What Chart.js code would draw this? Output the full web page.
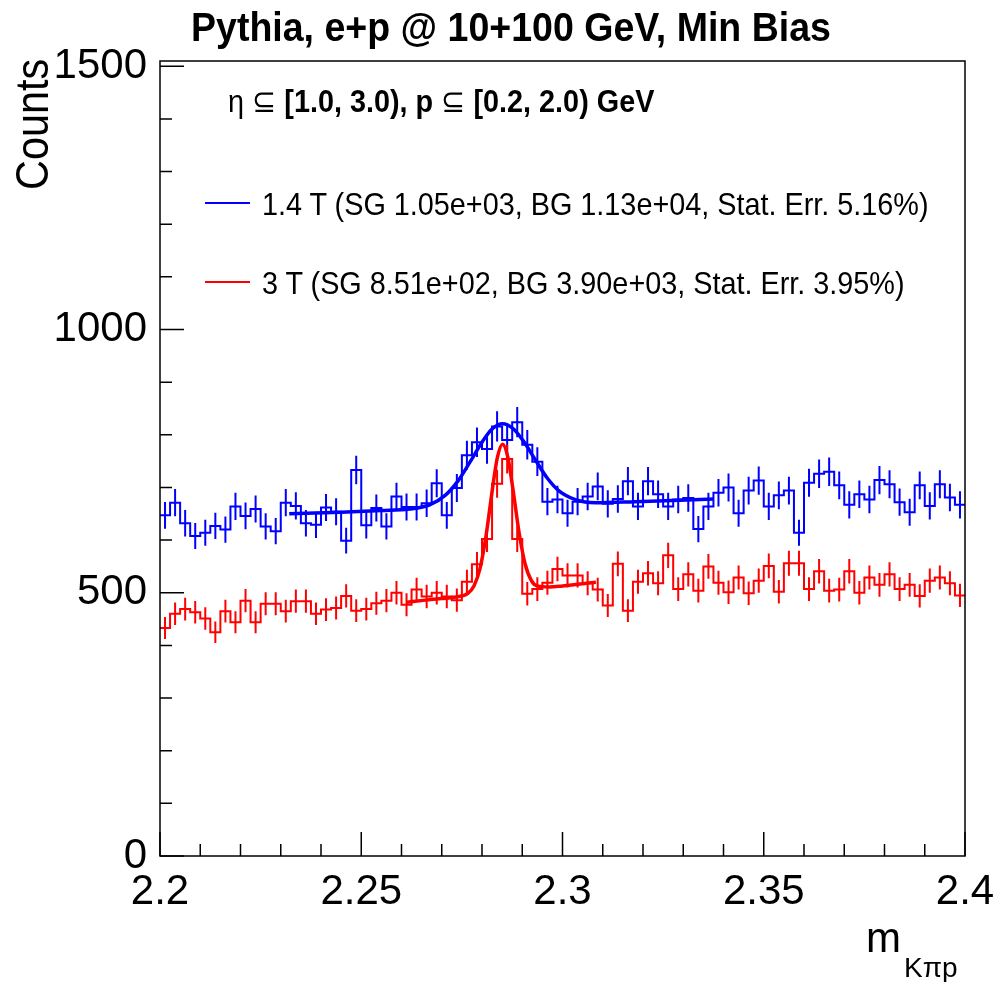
<!DOCTYPE html>
<html>
<head>
<meta charset="utf-8">
<script src="https://cdn.jsdelivr.net/npm/chart.js@4.4.0/dist/chart.umd.min.js"></script>
<style>
  html, body { margin: 0; padding: 0; background: #fff; }
  #wrap { position: relative; width: 993px; height: 982px; font-family: 'Liberation Sans', Arial, sans-serif; color: #000; }
  #wrap canvas { position: absolute; left: 0; top: 0; }
  .txt { position: absolute; white-space: nowrap; line-height: 1; }
  .sym { font-weight: normal; }
  .lg { position: absolute; height: 2px; width: 45px; left: 205px; }
</style>
</head>
<body>
<div id="wrap">
  <canvas id="hist" width="993" height="982"></canvas>
  <div class="txt" style="left:511px; top:7px; font-size:41px; font-weight:bold; transform:translateX(-50%) scaleX(0.915);">Pythia, e+p @ 10+100 GeV, Min Bias</div>
  <div class="txt" style="left:228px; top:85px; font-size:32px; font-weight:bold; transform-origin:0 0; transform:scaleX(0.9);"><span class="sym">&#951; &#8838;</span> [1.0, 3.0), p <span class="sym">&#8838;</span> [0.2, 2.0) GeV</div>
  <div class="lg" style="top:202px; background:#0000ff;"></div>
  <div class="txt" style="left:262px; top:188px; font-size:32px; transform-origin:0 0; transform:scaleX(0.9);">1.4 T (SG 1.05e+03, BG 1.13e+04, Stat. Err. 5.16%)</div>
  <div class="lg" style="top:281px; background:#ff0000;"></div>
  <div class="txt" style="left:262px; top:267px; font-size:32px; transform-origin:0 0; transform:scaleX(0.9);">3 T (SG 8.51e+02, BG 3.90e+03, Stat. Err. 3.95%)</div>
  <div class="txt" style="left:9px; top:190px; font-size:46px; transform-origin:0 0; transform:rotate(-90deg) scaleX(0.9);">Counts</div>
  <div class="txt" style="left:866px; top:917px; font-size:42px;">m</div>
  <div class="txt" style="left:904px; top:954px; font-size:28px;">K&#960;p</div>
</div>
<script>
// binning of the invariant mass histograms
const binLow = 2.2;
const binWidth = 0.0025;

// 1.4 T counts per bin
const blueCounts = [
  647, 671, 632, 608, 614, 627, 620, 664, 646, 659,
  626, 617, 671, 665, 632, 629, 662, 654, 599, 733,
  628, 661, 626, 683, 663, 663, 670, 708, 647, 699,
  761, 786, 773, 816, 790, 824, 781, 749, 673, 677,
  651, 673, 683, 702, 669, 678, 712, 664, 712, 687,
  664, 677, 680, 621, 664, 690, 700, 651, 694, 713,
  664, 685, 694, 614, 709, 726, 730, 704, 667, 687,
  677, 714, 706, 672, 653, 704, 665, 706, 681, 667
];

// 3 T counts per bin
const redCounts = [
  433, 460, 469, 463, 451, 425, 465, 444, 485, 444,
  479, 479, 465, 484, 484, 460, 468, 471, 494, 466,
  469, 480, 485, 500, 477, 506, 493, 500, 493, 486,
  521, 554, 602, 707, 754, 602, 498, 507, 519, 545,
  533, 533, 518, 506, 476, 555, 466, 521, 537, 518,
  571, 507, 535, 504, 550, 519, 501, 529, 499, 523,
  551, 502, 556, 556, 507, 541, 504, 506, 541, 500,
  529, 515, 535, 507, 515, 494, 523, 529, 518, 495
];

// fitted curves
const blueFitX = [2.2321, 2.245, 2.255, 2.262, 2.267, 2.271, 2.274, 2.277, 2.280, 2.2825,
                  2.2851, 2.2877, 2.2902, 2.2932, 2.2962, 2.2992, 2.3032, 2.3082, 2.318, 2.3375];
const blueFitY = [650, 653, 656, 659, 667, 686, 712, 748, 786, 811,
                  821, 812, 789, 753, 718, 693, 677, 671, 673, 678];

const redFitX = [2.2613, 2.266, 2.270, 2.2735, 2.2765, 2.278, 2.2795, 2.281, 2.2825, 2.2838,
                 2.2851, 2.2864, 2.2877, 2.2892, 2.2907, 2.2922, 2.2937, 2.2967, 2.300, 2.3083];
const redFitY = [482, 486, 489, 492, 499, 513, 546, 608, 692, 756,
                 782, 758, 696, 615, 555, 524, 513, 511, 513, 520];

const xTicks = [2.2, 2.25, 2.3, 2.35, 2.4];
const yTicks = [0, 500, 1000, 1500];

function stepPoints(counts) {
  const pts = counts.map((c, i) => ({ x: binLow + i * binWidth, y: c }));
  pts.push({ x: binLow + counts.length * binWidth, y: counts[counts.length - 1] });
  return pts;
}
function zip(xs, ys) {
  return xs.map((x, i) => ({ x: x, y: ys[i] }));
}

// vertical sqrt(N) error bars at bin centres
const errorBars = {
  id: 'errorBars',
  beforeDatasetsDraw(chart) {
    const ctx = chart.ctx, xs = chart.scales.x, ys = chart.scales.y, a = chart.chartArea;
    ctx.save();
    ctx.beginPath();
    ctx.rect(a.left, a.top, a.right - a.left, a.bottom - a.top);
    ctx.clip();
    chart.data.datasets.forEach(ds => {
      if (!ds.counts) return;
      ctx.strokeStyle = ds.borderColor;
      ctx.lineWidth = 2;
      ctx.beginPath();
      ds.counts.forEach((c, i) => {
        const px = xs.getPixelForValue(binLow + (i + 0.5) * binWidth);
        const e = Math.sqrt(c);
        ctx.moveTo(px, ys.getPixelForValue(c - e));
        ctx.lineTo(px, ys.getPixelForValue(c + e));
      });
      ctx.stroke();
    });
    ctx.restore();
  }
};

// ROOT style frame with ticks pointing inwards
const rootFrame = {
  id: 'rootFrame',
  afterDraw(chart) {
    const ctx = chart.ctx, xs = chart.scales.x, ys = chart.scales.y, a = chart.chartArea;
    ctx.save();
    ctx.strokeStyle = '#000';
    ctx.lineWidth = 1.5;
    ctx.strokeRect(a.left, a.top, a.right - a.left, a.bottom - a.top);
    ctx.beginPath();
    for (let k = 0; k <= 15; k++) {
      const py = ys.getPixelForValue(k * 100);
      const len = k % 5 === 0 ? 24 : 12;
      ctx.moveTo(a.left, py);
      ctx.lineTo(a.left + len, py);
    }
    for (let k = 0; k <= 20; k++) {
      const px = xs.getPixelForValue(2.2 + k * 0.01);
      const len = k % 5 === 0 ? 24 : 12;
      ctx.moveTo(px, a.bottom);
      ctx.lineTo(px, a.bottom - len);
    }
    ctx.stroke();
    ctx.restore();
  }
};

const tickFont = { family: "'Liberation Sans', Arial, sans-serif", size: 42 };

new Chart(document.getElementById('hist').getContext('2d'), {
  type: 'line',
  data: {
    datasets: [
      { label: '3 T fit', data: zip(redFitX, redFitY), borderColor: '#ff0000', borderWidth: 3.5,
        pointRadius: 0, cubicInterpolationMode: 'monotone', order: 0 },
      { label: '1.4 T fit', data: zip(blueFitX, blueFitY), borderColor: '#0000ff', borderWidth: 3.5,
        pointRadius: 0, cubicInterpolationMode: 'monotone', order: 0 },
      { label: '1.4 T', data: stepPoints(blueCounts), counts: blueCounts, borderColor: '#0000ff',
        borderWidth: 2, stepped: 'before', pointRadius: 0, order: 1 },
      { label: '3 T', data: stepPoints(redCounts), counts: redCounts, borderColor: '#ff0000',
        borderWidth: 2, stepped: 'before', pointRadius: 0, order: 1 }
    ]
  },
  options: {
    responsive: false,
    animation: false,
    devicePixelRatio: 1,
    layout: { padding: { left: 0, top: 61, right: 28, bottom: 0 } },
    plugins: {
      legend: { display: false },
      title: { display: false },
      tooltip: { enabled: false }
    },
    scales: {
      x: {
        type: 'linear',
        min: 2.2,
        max: 2.4,
        afterBuildTicks: s => { s.ticks = xTicks.map(v => ({ value: v })); },
        afterFit: s => { s.height = 126; s.paddingLeft = 0; s.paddingRight = 0; },
        grid: { display: false, drawTicks: false },
        border: { display: false },
        ticks: {
          font: tickFont, color: '#000', padding: 11, maxRotation: 0, autoSkip: false,
          callback: v => String(+v.toFixed(2))
        }
      },
      y: {
        min: 0,
        max: 1510,
        afterBuildTicks: s => { s.ticks = yTicks.map(v => ({ value: v })); },
        afterFit: s => { s.width = 160; s.paddingTop = 0; s.paddingBottom = 0; },
        grid: { display: false, drawTicks: false },
        border: { display: false },
        ticks: { font: tickFont, color: '#000', padding: 13, callback: v => String(v) }
      }
    }
  },
  plugins: [errorBars, rootFrame]
});
</script>
</body>
</html>
